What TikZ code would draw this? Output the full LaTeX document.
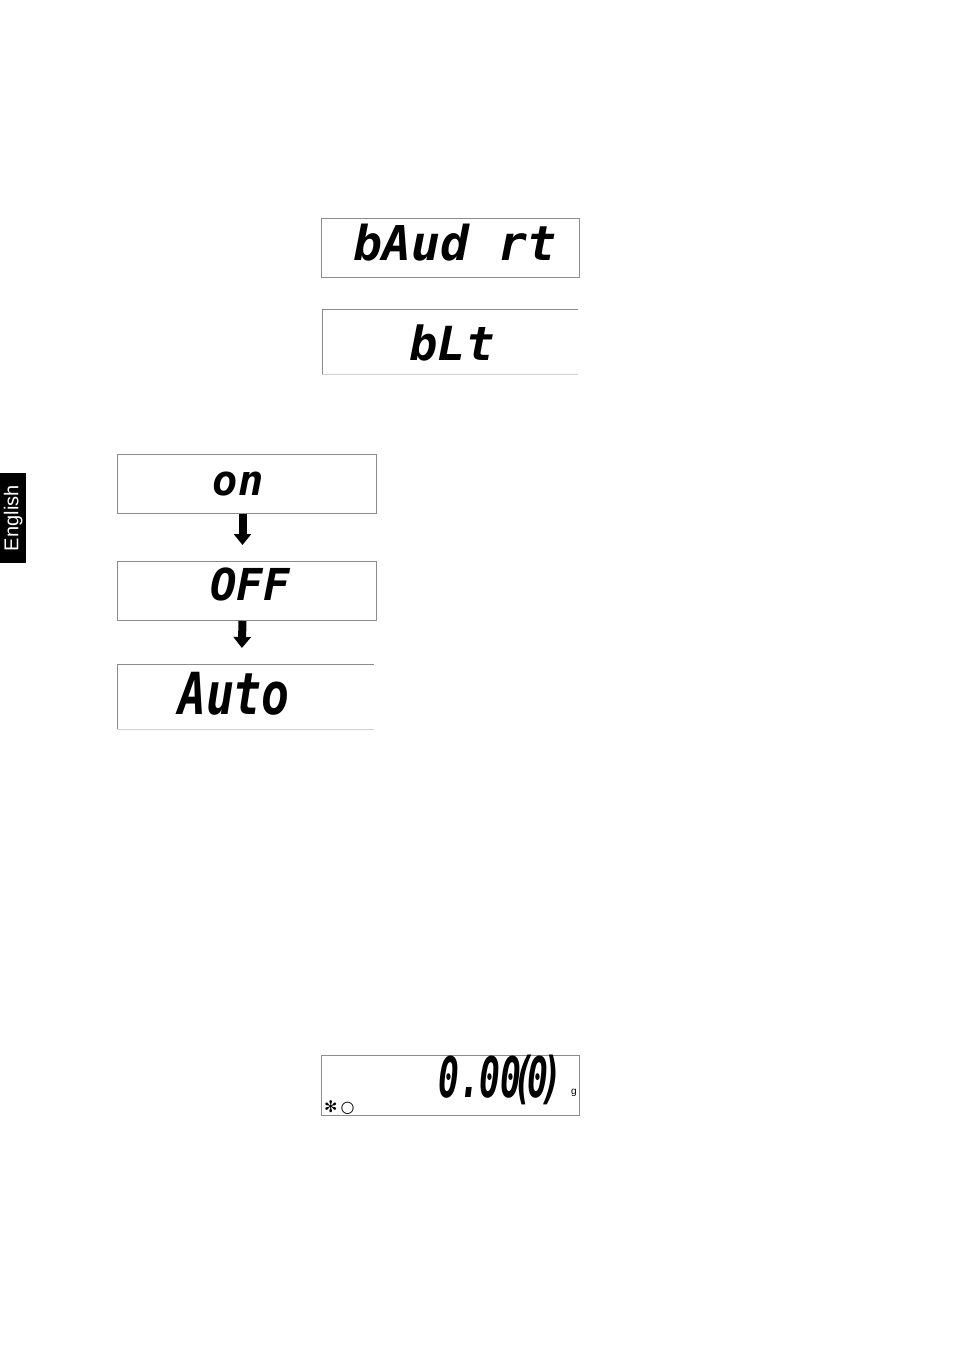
\documentclass[tikz,border=0pt]{standalone}
\usepackage{fontspec}
\setmainfont{Liberation Sans}
\newfontfamily\segfont{DejaVu Sans Mono}
\newfontfamily\symfont{DejaVu Sans}
\usetikzlibrary{arrows.meta}
\tikzset{
  lcd/.style={minimum width=#1, minimum height=60pt, inner sep=0pt, outer sep=0pt},
  lcdframe/.style={draw=black!45, line width=0.8pt},
  faint/.style={draw=black!18, line width=0.6pt},
  seg/.style={inner sep=0pt},
  arr/.style={line width=8pt, -{Triangle[width=17pt,length=11pt]}, shorten <=1pt, shorten >=16pt}
}
\begin{document}
\begin{tikzpicture}[x=1pt,y=-1pt]
\useasboundingbox (0,0) rectangle (955,1350);
% English tab
\node[fill=black, minimum width=26pt, minimum height=90pt, inner sep=0pt, anchor=north west] (tab) at (0,473) {};
\node[text=white, rotate=90, font=\fontsize{20}{20}\selectfont, inner sep=0pt] (eng) at (tab.center) {English};
% bAud rt
\node[lcd=258pt, lcdframe, anchor=north west, minimum height=59pt] (baud) at (321,218) {};
\node[seg, font=\segfont\bfseries\itshape\fontsize{48}{48}\selectfont, anchor=base] (baudt) at (455,260) {bAud rt};
% bLt
\node[lcd=256pt, anchor=north west, minimum height=65pt] (blt) at (322,309) {};
\draw[lcdframe] (blt.north east) -- (blt.north west) -- (blt.south west);
\draw[faint] (blt.south west) -- (blt.south east);
\node[seg, font=\segfont\bfseries\itshape\fontsize{47}{47}\selectfont, anchor=base] (bltt) at (452,360) {bLt};
% on
\node[lcd=259pt, lcdframe, anchor=north west, minimum height=59pt] (on) at (117,454) {};
\node[seg, font=\segfont\bfseries\itshape\fontsize{42}{42}\selectfont, anchor=base] (ont) at (238,495) {on};
% OFF
\node[lcd=259pt, lcdframe, anchor=north west, minimum height=59pt] (off) at (117,561) {};
\node[seg, font=\segfont\bfseries\itshape\fontsize{44}{44}\selectfont, anchor=base] (offt) at (250,600) {OFF};
% Auto
\node[lcd=257pt, anchor=north west, minimum height=65pt] (auto) at (117,664) {};
\draw[lcdframe] (auto.north east) -- (auto.north west) -- (auto.south west);
\draw[faint] (auto.south west) -- (auto.south east);
\node[seg, font=\segfont\bfseries\itshape\fontsize{58}{58}\selectfont, anchor=base, xscale=0.8] (autot) at (234,714) {Auto};
% arrows
\draw[arr] ([xshift=-4pt]on.south) -- ([xshift=-4pt]off.north);
\draw[arr] ([xshift=-4pt]off.south) -- ([xshift=-4pt]auto.north);
% weight display
\node[lcd=258pt, lcdframe, anchor=north west, minimum height=60pt] (wt) at (321,1055) {};
\node[seg, font=\segfont\bfseries\itshape\fontsize{56}{56}\selectfont, anchor=base east, xscale=0.62] (wtt) at (562,1097) {0.00\kern-0.25em(\kern-0.2em0\kern-0.2em)};
\node[inner sep=0pt, font=\fontsize{10}{10}\selectfont, anchor=base] (g) at (574,1094) {g};
\node[inner sep=0pt, font=\symfont\fontsize{16}{16}\selectfont, anchor=base west] (sym) at (324,1112) {✻\kern3pt○};
\end{tikzpicture}
\end{document}
